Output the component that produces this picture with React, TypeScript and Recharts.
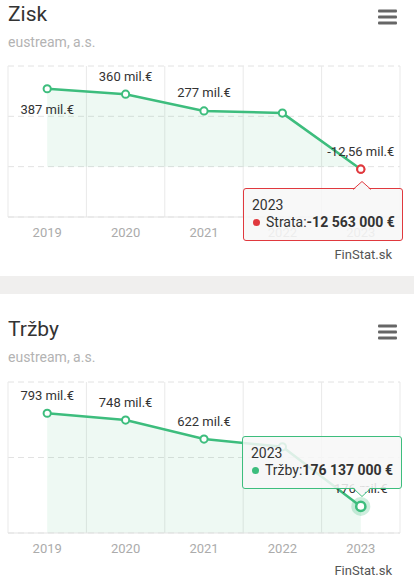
import React from 'react';
import { ComposedChart, Line, Area, XAxis, YAxis, CartesianGrid, Tooltip, LabelList } from 'recharts';

const years = ['2019', '2020', '2021', '2022', '2023'];
const profit = [387, 360, 277, 266, -12.563];
const profitLabels = ['387 mil.€', '360 mil.€', '277 mil.€', '', '-12,56 mil.€'];
const profitTicks = [-250, 0, 250, 500];
const revenue = [793, 748, 622, 571, 176.137];
const revenueLabels = ['793 mil.€', '748 mil.€', '622 mil.€', '', '176 mil.€'];
const revenueTicks = [0, 500, 1000];

const GREEN = '#3dbd7d';
const RED = '#e0393e';
const FONT = 'Roboto, sans-serif';

const profitData = years.map((y, i) => ({ year: y, value: profit[i] }));
const revenueData = years.map((y, i) => ({ year: y, value: revenue[i] }));

const fmtEur = (v: number) => {
  const n = Math.round(v * 1e6);
  const s = Math.abs(n).toString().replace(/\B(?=(\d{3})+(?!\d))/g, ' ');
  return (n < 0 ? '-' : '') + s + ' €';
};

const MARGIN = { top: 6, right: 14, left: 8, bottom: 13 };

type ChartProps = {
  data: { year: string; value: number }[];
  labels: string[];
  ticks: number[];
  name: string;
  negName: string;
  tipPos: { x: number; y: number };
  caret: 'top' | 'bottom';
  halo: boolean;
};

const dotColor = (v: number) => (v < 0 ? RED : GREEN);

function makeTip(cfg: ChartProps) {
  return (props: any) => {
    const { active, payload, coordinate } = props;
    if (!active || !payload || !payload.length) return null;
    const p = payload[payload.length - 1];
    const v = p.value as number;
    const color = dotColor(v);
    const label = p.payload.year;
    const caretX = coordinate && typeof coordinate.x === 'number' ? coordinate.x - cfg.tipPos.x : 116;
    const caretSvg =
      cfg.caret === 'top' ? (
        <svg width={18} height={10} style={{ position: 'absolute', left: caretX - 9, top: -8, overflow: 'visible' }}>
          <path d="M0 9.5 L9 1 L18 9.5" fill="#f7f7f7" stroke="none" />
          <path d="M0 8.5 L9 0.5 L18 8.5" fill="none" stroke={color} strokeWidth={1} />
        </svg>
      ) : (
        <svg width={18} height={10} style={{ position: 'absolute', left: caretX - 9, bottom: -9, overflow: 'visible' }}>
          <path d="M0 0 L9 8.5 L18 0" fill="#f7f7f7" stroke="none" />
          <path d="M0 1 L9 9.5 L18 1" fill="none" stroke={color} strokeWidth={1} />
        </svg>
      );
    return (
      <div
        style={{
          position: 'relative',
          width: 160,
          height: 53,
          boxSizing: 'border-box',
          background: 'rgba(247,247,247,0.86)',
          border: `1px solid ${color}`,
          borderRadius: 3,
          padding: '8px 0 0 8px',
          fontFamily: FONT,
          fontSize: 14,
          color: '#333',
          lineHeight: '17px',
          whiteSpace: 'nowrap',
        }}
      >
        {caretSvg}
        <div>{label}</div>
        <div>
          <span
            style={{
              display: 'inline-block',
              width: 7,
              height: 7,
              borderRadius: 4,
              background: color,
              marginLeft: 1,
              marginRight: 6,
              verticalAlign: 'middle',
              position: 'relative',
              top: -1,
            }}
          />
          {v < 0 ? cfg.negName : cfg.name}:<b>{fmtEur(v)}</b>
        </div>
      </div>
    );
  };
}

function MetricChart(cfg: ChartProps) {
  const n = cfg.data.length;
  const renderDot = (props: any) => {
    const { cx, cy, payload, index } = props;
    if (cx == null || cy == null) return <g key={`d${index}`} />;
    return <circle key={`d${index}`} cx={cx} cy={cy} r={3.6} fill="#fff" stroke={dotColor(payload.value)} strokeWidth={2} />;
  };
  const renderActive = (props: any) => {
    const { cx, cy, payload } = props;
    const c = dotColor(payload.value);
    return (
      <g>
        {cfg.halo && <circle cx={cx} cy={cy} r={9.5} fill={c} fillOpacity={0.25} />}
        <circle cx={cx} cy={cy} r={cfg.halo ? 4.6 : 3.6} fill="#fff" stroke={c} strokeWidth={cfg.halo ? 2.5 : 2} />
      </g>
    );
  };
  const renderLabel = (props: any) => {
    const { index } = props;
    const x = props.viewBox?.x ?? props.x;
    const y = props.viewBox?.y ?? props.y;
    const text = cfg.labels[index];
    if (!text) return null;
    const below = y - 25 < MARGIN.top;
    return (
      <text key={`l${index}`} x={x} y={below ? y + 25.5 : y - 13.5} textAnchor="middle" fontSize={13} fill="#333" fontFamily={FONT}>
        {text}
      </text>
    );
  };
  return (
    <ComposedChart width={414} height={200} data={cfg.data} margin={MARGIN}>
      <CartesianGrid horizontal vertical={false} strokeDasharray="6 4" stroke="#e2e2e2" />
      <CartesianGrid
        horizontal={false}
        vertical
        stroke="#e9e9e9"
        verticalCoordinatesGenerator={({ offset }: any) =>
          Array.from({ length: n + 1 }, (_, i) => offset.left + (offset.width * i) / n)
        }
      />
      <XAxis
        dataKey="year"
        scale="band"
        axisLine={{ stroke: '#e3e3e3' }}
        tickLine={false}
        tickSize={0}
        tickMargin={11}
        height={30}
        tick={{ fill: '#ababab', fontSize: 13, fontFamily: FONT }}
        interval={0}
      />
      <YAxis hide domain={[cfg.ticks[0], cfg.ticks[cfg.ticks.length - 1]]} ticks={cfg.ticks} type="number" />
      <Area
        dataKey="value"
        fill={GREEN}
        fillOpacity={0.09}
        stroke="none"
        dot={false}
        activeDot={false}
        tooltipType="none"
        isAnimationActive={false}
      />
      <Line
        dataKey="value"
        stroke={GREEN}
        strokeWidth={2.5}
        dot={renderDot}
        activeDot={renderActive}
        isAnimationActive={false}
      >
        <LabelList dataKey="value" content={renderLabel} />
      </Line>
      <Tooltip
        defaultIndex={n - 1}
        active
        cursor={false}
        isAnimationActive={false}
        position={cfg.tipPos}
        content={makeTip(cfg)}
        wrapperStyle={{ outline: 'none' }}
      />
    </ComposedChart>
  );
}

function Header({ title, top }: { title: string; top: number }) {
  return (
    <g transform={`translate(0, ${top})`}>
      <text x={8} y={20.7} fontSize={21} fill="#333" fontFamily={FONT}>
        {title}
      </text>
      <text x={8} y={47} fontSize={14} fill="#b3b3b3" fontFamily={FONT}>
        eustream, a.s.
      </text>
      {[0, 6, 12].map((d) => (
        <rect key={d} x={378} y={9.5 + d} width={19} height={3} rx={1} fill="#666" />
      ))}
    </g>
  );
}

export default function App() {
  return (
    <div style={{ position: 'relative', width: 414, height: 580, background: '#fff', overflow: 'hidden' }}>
      <style>{`body{margin:0}`}</style>
      <svg width={414} height={580} style={{ position: 'absolute', left: 0, top: 0 }}>
        <Header title="Zisk" top={0} />
        <Header title="Tržby" top={315} />
        <rect x={0} y={276} width={414} height={18} fill="#f0efee" />
        <text x={392} y={259} textAnchor="end" fontSize={13} fill="#555" fontFamily={FONT}>
          FinStat.sk
        </text>
        <text x={392} y={575} textAnchor="end" fontSize={13} fill="#555" fontFamily={FONT}>
          FinStat.sk
        </text>
      </svg>
      <div style={{ position: 'absolute', left: 0, top: 60 }}>
        <MetricChart
          data={profitData}
          labels={profitLabels}
          ticks={profitTicks}
          name="Zisk"
          negName="Strata"
          tipPos={{ x: 243, y: 128 }}
          caret="top"
          halo={false}
        />
      </div>
      <div style={{ position: 'absolute', left: 0, top: 376 }}>
        <MetricChart
          data={revenueData}
          labels={revenueLabels}
          ticks={revenueTicks}
          name="Tržby"
          negName="Strata"
          tipPos={{ x: 242, y: 60 }}
          caret="bottom"
          halo={true}
        />
      </div>
    </div>
  );
}
